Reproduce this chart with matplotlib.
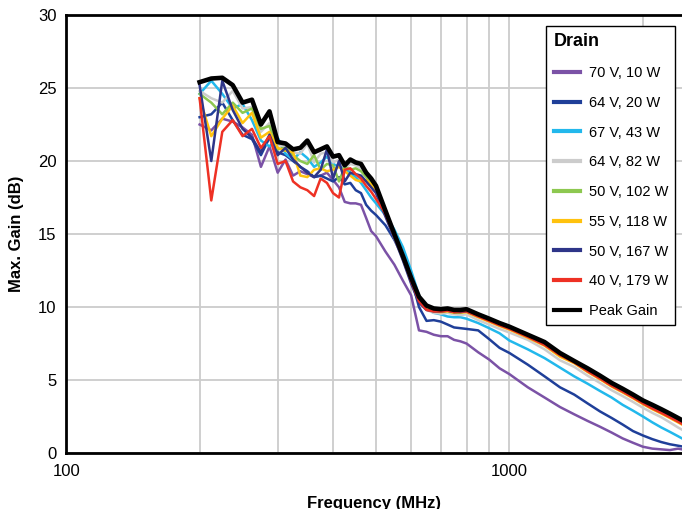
import matplotlib
matplotlib.use('Agg')
import matplotlib.pyplot as plt
from matplotlib.ticker import LogLocator, NullFormatter

plt.rcParams['font.family'] = ['Liberation Sans', 'DejaVu Sans']

# sweep frequencies (MHz)
freq = [200, 212.5, 225, 237.5, 250, 262.5, 275, 287.5, 300, 312.5, 325, 337.5,
        350, 362.5, 375, 387.5, 400, 412.5, 425, 437.5, 450, 462.5, 475, 487.5,
        500, 525, 550, 575, 600, 625, 650, 675, 700, 725, 750, 775, 800,
        850, 900, 950, 1000, 1100, 1200, 1300, 1400, 1500, 1600, 1700, 1800,
        1900, 2000, 2100, 2200, 2300, 2400, 2450]

# max gain (dB) per drain condition
g_70v_10w = [22.5, 22.1, 22.9, 22.7, 22.3, 21.8, 19.6, 21.0, 19.2, 20.1, 19.0, 19.3,
             19.1, 18.9, 19.0, 19.2, 18.7, 18.2, 17.2, 17.1, 17.1, 17.0, 16.1, 15.2,
             14.85, 13.8, 12.9, 11.8, 10.8, 8.4, 8.3, 8.1, 8.0, 8.0, 7.75, 7.65, 7.5,
             6.9, 6.4, 5.8, 5.4, 4.5, 3.8, 3.15, 2.65, 2.2, 1.8, 1.4, 1.0,
             0.7, 0.43, 0.3, 0.25, 0.2, 0.3, 0.25]
g_64v_20w = [23.0, 23.2, 24.0, 22.8, 21.8, 21.5, 20.4, 21.6, 20.6, 20.4, 20.0, 19.6,
             19.3, 18.9, 19.0, 18.8, 18.6, 18.9, 18.4, 18.5, 18.0, 17.8, 17.0, 16.6,
             16.3, 15.6, 14.6, 13.4, 12.0, 10.0, 9.05, 9.1, 9.0, 8.8, 8.6, 8.55, 8.5,
             8.4, 7.8, 7.2, 6.85, 6.05, 5.25, 4.5, 4.0, 3.4, 2.85, 2.4, 1.95,
             1.5, 1.2, 0.95, 0.75, 0.6, 0.5, 0.45]
g_67v_43w = [24.6, 25.5, 24.6, 23.6, 23.9, 22.8, 21.4, 21.0, 21.6, 20.5, 20.1, 20.6,
             20.2, 19.6, 19.9, 20.3, 19.8, 19.6, 19.5, 19.2, 18.9, 18.5, 18.0, 17.5,
             17.1, 16.3, 15.3, 14.1, 12.5, 10.8, 9.9, 9.6, 9.5, 9.35, 9.3, 9.3, 9.2,
             8.9, 8.55, 8.2, 7.7, 7.1, 6.5, 5.85, 5.25, 4.75, 4.25, 3.8, 3.3,
             2.9, 2.5, 2.1, 1.75, 1.45, 1.15, 1.0]
g_64v_82w = [24.8, 24.3, 24.0, 24.8, 23.6, 23.7, 22.0, 22.6, 21.1, 21.0, 20.6, 20.5,
             21.2, 19.9, 20.5, 20.6, 19.9, 20.1, 19.5, 19.8, 19.7, 19.5, 19.0, 18.6,
             18.1, 16.3, 14.7, 13.2, 11.7, 10.4, 9.8, 9.6, 9.55, 9.6, 9.5, 9.45, 9.5,
             9.1, 8.8, 8.5, 8.25, 7.75, 7.1, 6.35, 5.9, 5.3, 4.8, 4.3, 3.9,
             3.5, 3.1, 2.75, 2.45, 2.1, 1.75, 1.6]
g_50v_102w = [24.6, 24.0, 23.2, 24.0, 23.3, 23.6, 22.2, 22.4, 20.8, 20.9, 20.4, 20.0,
              19.8, 20.4, 19.4, 19.8, 19.7, 18.6, 19.6, 19.4, 19.5, 19.3, 18.9, 18.5,
              18.1, 16.5, 14.85, 13.35, 11.85, 10.5, 9.95, 9.75, 9.7, 9.75, 9.65, 9.65, 9.7,
              9.35, 9.05, 8.75, 8.5, 7.95, 7.4, 6.65, 6.2, 5.6, 5.1, 4.6, 4.2,
              3.8, 3.4, 3.05, 2.75, 2.45, 2.15, 2.0]
g_55v_118w = [24.3, 21.7, 22.9, 23.8, 22.6, 23.3, 21.6, 22.0, 20.9, 20.7, 20.6, 19.0,
              18.9, 19.4, 19.5, 19.3, 19.4, 19.6, 19.3, 19.0, 18.7, 18.6, 18.7, 18.4,
              18.0, 16.4, 14.8, 13.3, 11.8, 10.5, 9.9, 9.7, 9.65, 9.7, 9.6, 9.6, 9.65,
              9.3, 9.0, 8.7, 8.45, 7.9, 7.35, 6.6, 6.15, 5.55, 5.05, 4.55, 4.15,
              3.75, 3.35, 3.0, 2.7, 2.4, 2.1, 1.95]
g_50v_167w = [25.2, 20.0, 25.5, 23.5, 22.2, 21.6, 20.6, 21.8, 20.4, 20.9, 20.1, 19.6,
              19.2, 18.9, 19.4, 20.8, 18.8, 20.0, 18.6, 19.2, 19.1, 19.0, 18.6, 18.2,
              17.8, 16.2, 14.7, 13.2, 11.6, 10.3, 9.8, 9.7, 9.7, 9.75, 9.65, 9.65, 9.7,
              9.4, 9.1, 8.8, 8.55, 8.05, 7.45, 6.75, 6.3, 5.7, 5.2, 4.7, 4.3,
              3.9, 3.5, 3.2, 2.9, 2.6, 2.3, 2.1]
g_40v_179w = [24.3, 17.3, 22.0, 22.8, 21.7, 22.2, 20.9, 21.7, 19.8, 20.0, 18.6, 18.2,
              18.0, 17.6, 18.8, 18.5, 17.8, 17.5, 19.4, 19.5, 19.1, 18.8, 18.3, 17.9,
              17.4, 16.4, 14.85, 13.4, 11.8, 10.4, 9.8, 9.7, 9.7, 9.75, 9.65, 9.7, 9.7,
              9.35, 9.05, 8.75, 8.5, 7.95, 7.4, 6.7, 6.2, 5.6, 5.1, 4.6, 4.2,
              3.8, 3.4, 3.05, 2.75, 2.45, 2.15, 2.0]
g_peak = [25.4, 25.65, 25.7, 25.2, 24.0, 24.2, 22.5, 23.4, 21.3, 21.2, 20.8, 20.9,
          21.4, 20.6, 20.8, 21.0, 20.3, 20.4, 19.7, 20.1, 19.9, 19.8, 19.2, 18.8,
          18.3, 16.6, 15.0, 13.5, 12.0, 10.7, 10.1, 9.9, 9.85, 9.9, 9.8, 9.8, 9.85,
          9.5, 9.2, 8.9, 8.65, 8.1, 7.6, 6.85, 6.3, 5.8, 5.3, 4.8, 4.4,
          4.0, 3.6, 3.3, 3.0, 2.7, 2.4, 2.25]

series = [
    ('70 V, 10 W', g_70v_10w, '#7b52a6'),
    ('64 V, 20 W', g_64v_20w, '#1f3f99'),
    ('67 V, 43 W', g_67v_43w, '#22b8ec'),
    ('64 V, 82 W', g_64v_82w, '#cccccc'),
    ('50 V, 102 W', g_50v_102w, '#8dc850'),
    ('55 V, 118 W', g_55v_118w, '#ffc20e'),
    ('50 V, 167 W', g_50v_167w, '#2e3588'),
    ('40 V, 179 W', g_40v_179w, '#ee3124'),
]

fig = plt.figure(figsize=(6.82, 5.09), dpi=100)
ax = fig.add_axes([0.097, 0.110, 0.903, 0.8605])

for label, vals, color in series:
    ax.plot(freq, vals, color=color, lw=1.8, label=label)
ax.plot(freq, g_peak, color='black', lw=3.3, label='Peak Gain')

ax.set_xscale('log')
ax.set_xlim(100, 2450)
ax.set_ylim(0, 30)
ax.set_yticks(range(0, 31, 5))
ax.set_xticks([100, 1000])
ax.set_xticklabels(['100', '1000'])
ax.xaxis.set_minor_locator(LogLocator(base=10, subs=range(2, 10)))
ax.xaxis.set_minor_formatter(NullFormatter())
ax.tick_params(which='both', length=0, labelsize=12)
ax.tick_params(axis='x', pad=8)
ax.tick_params(axis='y', pad=7)

ax.grid(True, which='both', axis='x', color='#cccccc', lw=1.3)
ax.grid(True, which='major', axis='y', color='#cccccc', lw=1.3)
ax.set_axisbelow(True)

for side in ['left', 'bottom', 'top']:
    ax.spines[side].set_linewidth(2)
    ax.spines[side].set_color('black')
ax.spines['right'].set_visible(False)

ax.set_ylabel('Max. Gain (dB)', fontsize=12, fontweight='bold', labelpad=10)
ax.set_xlabel('Frequency (MHz)', fontsize=12, fontweight='bold', labelpad=12)

leg = ax.legend(title='Drain', loc='upper right', bbox_to_anchor=(0.989, 0.975),
                borderaxespad=0, fontsize=10.5, handlelength=1.8, handletextpad=0.6,
                labelspacing=1.08, fancybox=False, framealpha=1,
                edgecolor='black', borderpad=0.5)
leg.get_frame().set_linewidth(1)
leg.get_title().set_fontweight('bold')
leg.get_title().set_fontsize(13)
leg._legend_box.align = 'left'
for line in leg.get_lines():
    line.set_linewidth(3)

fig.savefig('out.png', dpi=100)
